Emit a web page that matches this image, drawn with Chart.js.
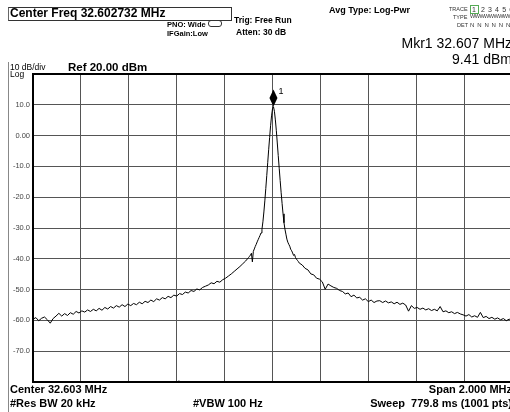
<!DOCTYPE html>
<html>
<head>
<meta charset="utf-8">
<script src="https://cdn.jsdelivr.net/npm/chart.js@4/dist/chart.umd.min.js"></script>
<style>
html, body { margin: 0; padding: 0; background: #fff; width: 510px; height: 412px; overflow: hidden; }
#wrap { position: relative; width: 510px; height: 412px; overflow: hidden; font-family: "Liberation Sans", Arial, sans-serif; color: #000; }
canvas { position: absolute; left: 0; top: 0; }
.t { position: absolute; white-space: nowrap; line-height: 1; }
.b { font-weight: bold; }
#cfbox { position: absolute; left: 8px; top: 7px; width: 222px; height: 12px; border: 1px solid #333; border-left-color: #666; }
#leftrule { position: absolute; left: 8px; top: 62px; width: 1px; height: 350px; background: #888; }
#pnoicon { position: absolute; left: 208px; top: 20px; width: 12px; height: 5px; border: 1px solid #333; border-radius: 3px; }
.trc { position: absolute; font-size: 5.5px; line-height: 1; color: #333; white-space: nowrap; }
.trv { position: absolute; font-size: 7px; line-height: 1; color: #333; white-space: nowrap; letter-spacing: 0.6px; }
#tr1 { border: 1px solid #5a5; padding: 0 1px; }
</style>
</head>
<body>
<div id="wrap">
  <canvas id="c" width="520" height="412"></canvas>

  <div id="cfbox"></div>
  <div class="t b" style="left:10px;top:7px;font-size:12px;">Center Freq 32.602732 MHz</div>
  <div class="t b" style="left:167px;top:20.5px;font-size:7.5px;">PNO: Wide</div>
  <div id="pnoicon"></div>
  <div class="t b" style="left:167px;top:29.5px;font-size:7.5px;">IFGain:Low</div>
  <div class="t b" style="left:234px;top:16px;font-size:8.5px;">Trig: Free Run</div>
  <div class="t b" style="left:236px;top:28px;font-size:8.5px;">Atten: 30 dB</div>
  <div class="t b" style="left:329px;top:5.5px;font-size:9px;">Avg Type: Log-Pwr</div>

  <div class="trc" style="left:449px;top:7px;">TRACE</div>
  <div class="trv" style="left:470px;top:6px;"><span id="tr1">1</span> 2 3 4 5 6</div>
  <div class="trc" style="left:453px;top:15px;">TYPE</div>
  <div class="trv" style="left:470px;top:14px;font-size:5.5px;letter-spacing:-0.5px;">WWWWWWWWWWWW</div>
  <div class="trc" style="left:457px;top:23px;">DET</div>
  <div class="trv" style="left:470px;top:22px;font-size:6px;">N N N N N N</div>

  <div class="t" id="mkrFreq" style="right:-2px;top:36px;font-size:14px;"></div>
  <div class="t" id="mkrLevel" style="right:-2px;top:52px;font-size:14px;"></div>

  <div id="leftrule"></div>
  <div class="t" style="left:10px;top:62.5px;font-size:8.5px;">10 dB/div</div>
  <div class="t" style="left:10px;top:69.5px;font-size:8.5px;">Log</div>
  <div class="t b" style="left:68px;top:61.5px;font-size:11.5px;">Ref 20.00 dBm</div>

  <div class="t" style="left:177px;top:379px;font-size:8px;">^</div>

  <div class="t b" style="left:10px;top:383.7px;font-size:11px;">Center 32.603 MHz</div>
  <div class="t b" style="left:10px;top:397.7px;font-size:11px;">#Res BW 20 kHz</div>
  <div class="t b" style="left:193px;top:397.7px;font-size:11px;">#VBW 100 Hz</div>
  <div class="t b" style="right:-2px;top:383.7px;font-size:11px;">Span 2.000 MHz</div>
  <div class="t b" style="right:-2px;top:397.7px;font-size:11px;">Sweep&nbsp;&nbsp;779.8 ms (1001 pts)</div>
</div>

<script>
// Swept trace: frequency (MHz) and detected level (dBm)
const freqMHz = [
  31.603, 31.615, 31.627, 31.639, 31.651, 31.663, 31.675, 31.687, 31.699, 31.711,
  31.723, 31.735, 31.747, 31.759, 31.771, 31.783, 31.795, 31.807, 31.819, 31.831,
  31.843, 31.855, 31.867, 31.879, 31.891, 31.903, 31.915, 31.927, 31.939, 31.951,
  31.963, 31.975, 31.987, 31.999, 32.011, 32.023, 32.035, 32.047, 32.059, 32.071,
  32.083, 32.095, 32.107, 32.119, 32.131, 32.143, 32.155, 32.167, 32.179, 32.191,
  32.203, 32.215, 32.227, 32.239, 32.251, 32.263, 32.275, 32.287, 32.299, 32.311,
  32.323, 32.335, 32.347, 32.359, 32.371, 32.383, 32.395, 32.407, 32.419, 32.431,
  32.443, 32.455, 32.467, 32.479, 32.491, 32.503,
  32.507, 32.511, 32.515, 32.519, 32.523, 32.527, 32.531, 32.535, 32.539, 32.543,
  32.547, 32.551, 32.555, 32.559, 32.563, 32.567, 32.571, 32.575, 32.579, 32.583,
  32.587, 32.591, 32.595, 32.599, 32.603, 32.607, 32.611, 32.615, 32.619, 32.623,
  32.627, 32.631, 32.635, 32.639, 32.643, 32.647, 32.651, 32.655, 32.659, 32.663,
  32.667, 32.671, 32.675, 32.679, 32.683, 32.687, 32.691, 32.695, 32.699, 32.703,
  32.707, 32.711, 32.715,
  32.727, 32.739, 32.751, 32.763, 32.775, 32.787, 32.799, 32.811, 32.823, 32.835,
  32.847, 32.859, 32.871, 32.883, 32.895, 32.907, 32.919, 32.931, 32.943, 32.955,
  32.967, 32.979, 32.991, 33.003, 33.015, 33.027, 33.039, 33.051, 33.063, 33.075,
  33.087, 33.099, 33.111, 33.123, 33.135, 33.147, 33.159, 33.171, 33.183, 33.195,
  33.207, 33.219, 33.231, 33.243, 33.255, 33.267, 33.279, 33.291, 33.303, 33.315,
  33.327, 33.339, 33.351, 33.363, 33.375, 33.387, 33.399, 33.411, 33.423, 33.435,
  33.447, 33.459, 33.471, 33.483, 33.495, 33.507, 33.519, 33.531, 33.543, 33.555,
  33.567, 33.579, 33.591, 33.603
];

const levelDbm = [
  -59.6, -59.1, -60.1, -59.3, -58.9, -59.8, -60.9, -59.4, -58.6, -57.7,
  -58.6, -57.8, -58.4, -57.5, -58.0, -57.1, -57.6, -56.9, -57.3, -56.6,
  -57.1, -56.4, -56.9, -56.1, -56.7, -55.8, -56.3, -55.5, -56.0, -55.2,
  -55.7, -54.9, -55.5, -54.7, -55.2, -54.5, -54.9, -54.1, -54.6, -53.8,
  -54.2, -53.4, -53.9, -53.0, -53.4, -52.6, -53.0, -52.2, -52.6, -51.8,
  -52.1, -51.3, -51.6, -50.8, -51.1, -50.3, -50.6, -49.8, -50.1, -49.3,
  -48.9, -48.5, -47.8, -48.1, -47.3, -47.6, -46.8, -46.3, -45.6, -44.9,
  -44.1, -43.3, -42.5, -41.6, -40.7, -39.6,
  -39.2, -38.8, -38.2, -41.0, -37.6, -36.8, -36.0, -35.3, -34.5, -33.8,
  -33.1, -32.4, -31.6, -30.4, -28.0, -24.8, -21.2, -17.2, -13.0, -8.8,
  -4.6, -0.6, 3.2, 6.4, 8.7, 9.41, 7.9, 5.1, 1.6, -2.4,
  -6.5, -10.6, -14.6, -18.4, -22.0, -25.4, -28.3, -30.4, -32.0, -33.6,
  -34.6, -35.3, -35.9, -36.9, -37.4, -38.1, -38.9, -38.6, -39.6, -40.1,
  -40.5, -40.9, -41.4,
  -42.0, -43.1, -43.6, -44.9, -45.2, -46.3, -46.6, -47.5, -49.9, -48.2,
  -48.8, -49.3, -49.6, -50.3, -50.6, -51.4, -51.1, -52.3, -51.8, -52.7,
  -52.5, -53.4, -53.0, -53.9, -53.4, -54.2, -53.7, -53.6, -54.2, -53.7,
  -54.3, -54.0, -54.6, -54.1, -54.8, -54.4, -55.0, -57.0, -55.2, -56.1,
  -55.8, -56.4, -56.0, -56.6, -56.2, -56.8, -56.4, -56.9, -55.5, -57.2,
  -56.9, -57.5, -57.2, -57.8, -57.4, -57.9, -58.2, -58.6, -58.1, -58.9,
  -58.5, -59.0, -57.4, -59.1, -58.7, -59.4, -59.0, -59.6, -59.2, -59.8,
  -59.4, -60.1, -59.6, -59.9
];

// Marker 1
const markerFreqMHz = 32.607;
const markerLevelDbm = 9.41;

// Graticule: 10 horizontal divisions over the 2 MHz span, 10 dB/div from the 20 dBm reference
const xGridMHz = [31.603, 31.803, 32.003, 32.203, 32.403, 32.603, 32.803, 33.003, 33.203, 33.403, 33.603];
const yTickValues = [20, 10, 0, -10, -20, -30, -40, -50, -60, -70, -80];
const yTickLabels = ['', '10.0', '0.00', '-10.0', '-20.0', '-30.0', '-40.0', '-50.0', '-60.0', '-70.0', ''];

document.getElementById('mkrFreq').textContent = 'Mkr1 ' + markerFreqMHz.toFixed(3) + ' MHz';
document.getElementById('mkrLevel').textContent = markerLevelDbm.toFixed(2) + ' dBm';

// Heavy frame on the left, top and bottom of the graticule
const framePlugin = {
  id: 'frame',
  afterDraw(chart) {
    const a = chart.chartArea, ctx = chart.ctx;
    ctx.save();
    ctx.strokeStyle = '#000';
    ctx.lineWidth = 2;
    ctx.beginPath();
    ctx.moveTo(a.right + 2, a.top);
    ctx.lineTo(a.left, a.top);
    ctx.lineTo(a.left, a.bottom);
    ctx.lineTo(a.right + 2, a.bottom);
    ctx.stroke();
    ctx.restore();
  }
};

// Diamond marker sitting on the trace, with its number
const markerPlugin = {
  id: 'marker',
  afterDatasetsDraw(chart) {
    const ctx = chart.ctx;
    const px = chart.scales.x.getPixelForValue(markerFreqMHz);
    const py = chart.scales.y.getPixelForValue(markerLevelDbm);
    ctx.save();
    ctx.fillStyle = '#000';
    ctx.beginPath();
    ctx.moveTo(px, py);
    ctx.lineTo(px + 4, py - 8.5);
    ctx.lineTo(px, py - 17);
    ctx.lineTo(px - 4, py - 8.5);
    ctx.closePath();
    ctx.fill();
    ctx.font = '9px "Liberation Sans", Arial, sans-serif';
    ctx.textBaseline = 'middle';
    ctx.textAlign = 'left';
    ctx.fillText('1', px + 5, py - 15);
    ctx.restore();
  }
};

new Chart(document.getElementById('c'), {
  type: 'line',
  data: {
    datasets: [{
      data: freqMHz.map((f, i) => ({ x: f, y: levelDbm[i] })),
      borderColor: '#000',
      borderWidth: 1,
      pointRadius: 0,
      tension: 0,
      fill: false
    }]
  },
  options: {
    responsive: false,
    animation: false,
    events: [],
    layout: { padding: { left: 0, top: 74, right: 8, bottom: 30 } },
    plugins: { legend: { display: false }, tooltip: { enabled: false } },
    scales: {
      x: {
        type: 'linear',
        min: xGridMHz[0],
        max: xGridMHz[xGridMHz.length - 1],
        afterBuildTicks(scale) { scale.ticks = xGridMHz.map(v => ({ value: v })); },
        afterFit(scale) { scale.height = 0; },
        ticks: { display: false },
        grid: { color: '#555', lineWidth: 1, drawTicks: false },
        border: { display: false }
      },
      y: {
        type: 'linear',
        min: -80,
        max: 20,
        afterBuildTicks(scale) { scale.ticks = yTickValues.map(v => ({ value: v })); },
        afterFit(scale) { scale.width = 33; },
        ticks: {
          padding: 3,
          color: '#444',
          font: { family: '"Liberation Sans", Arial, sans-serif', size: 7.5 },
          callback(value, index) { return yTickLabels[index]; }
        },
        grid: { color: '#555', lineWidth: 1, drawTicks: false },
        border: { display: false }
      }
    }
  },
  plugins: [framePlugin, markerPlugin]
});
</script>
</body>
</html>
